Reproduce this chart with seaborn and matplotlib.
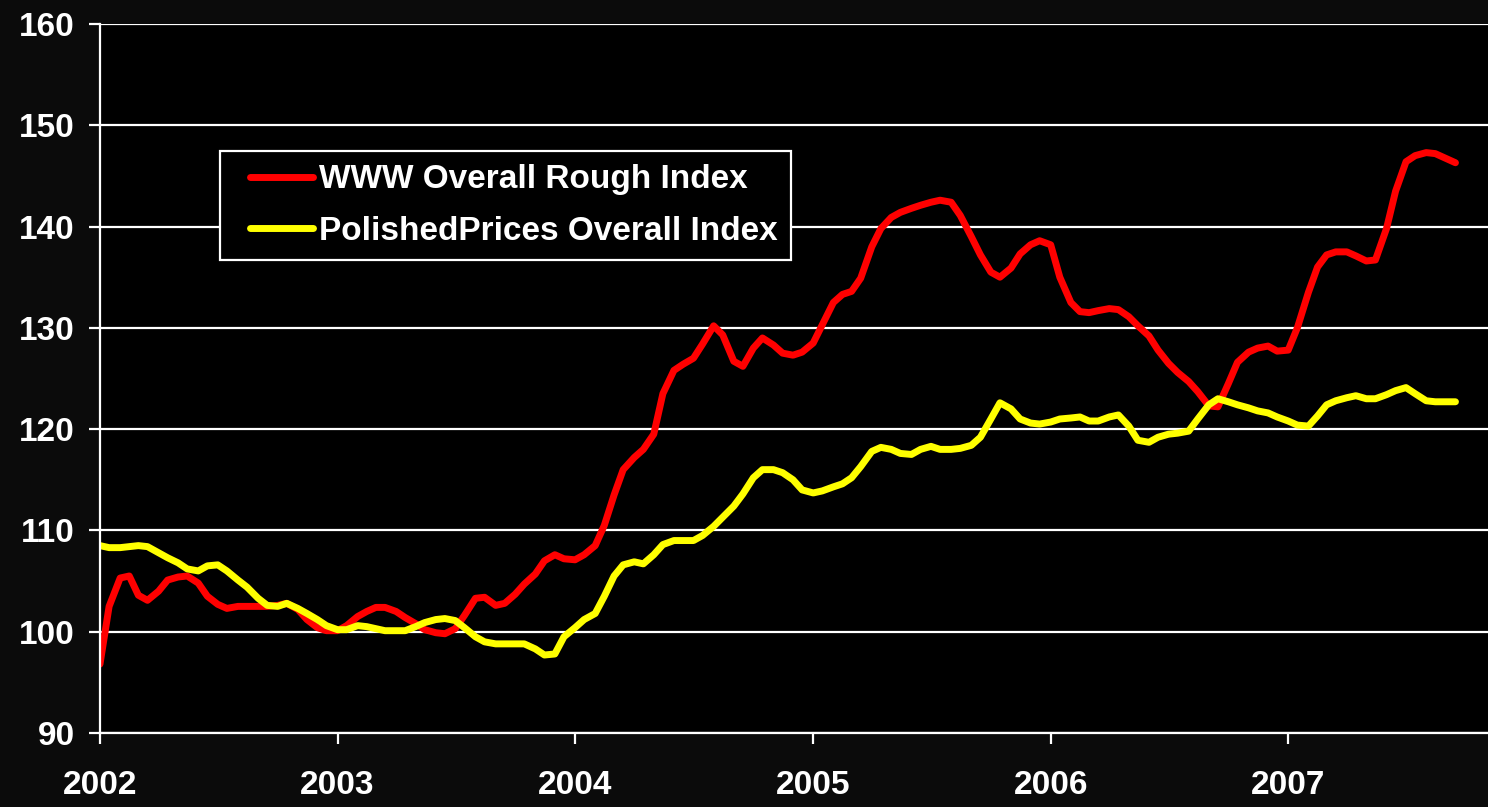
import pandas as pd
import matplotlib
matplotlib.use("Agg")
import matplotlib.pyplot as plt
from matplotlib.legend_handler import HandlerLine2D
import seaborn as sns

# semi-monthly readings, Jan 2002 - Sep 2007
dates = pd.date_range("2002-01-01", periods=138, freq="SMS")

rough_index = [
    96.8, 102.5, 105.3, 105.5, 103.6, 103.1, 104.0, 105.1, 105.4, 105.5,
    104.8, 103.5, 102.7, 102.3, 102.5, 102.5, 102.5, 102.5, 102.6, 102.8,
    102.2, 101.2, 100.4, 100.1, 100.1, 100.6, 101.5, 102.0, 102.4, 102.4,
    102.0, 101.4, 100.8, 100.2, 99.9, 99.8, 100.3, 101.6, 103.3, 103.4,
    102.6, 102.8, 103.7, 104.7, 105.7, 107.0, 107.6, 107.2, 107.1, 107.6,
    108.5, 110.5, 113.5, 116.0, 117.2, 118.0, 119.5, 123.5, 125.8, 126.4,
    127.0, 128.4, 130.2, 129.3, 126.7, 126.2, 128.0, 129.0, 128.3, 127.5,
    127.3, 127.6, 128.5, 130.3, 132.5, 133.3, 133.6, 134.9, 138.0, 139.8,
    140.9, 141.4, 141.8, 142.1, 142.4, 142.6, 142.4, 141.1, 139.0, 137.2,
    135.5, 135.0, 135.9, 137.3, 138.2, 138.6, 138.2, 135.0, 132.5, 131.6,
    131.5, 131.7, 131.9, 131.8, 131.1, 130.2, 129.2, 127.8, 126.5, 125.6,
    124.7, 123.7, 122.3, 122.2, 124.5, 126.6, 127.6, 128.0, 128.2, 127.7,
    127.8, 130.0, 133.5, 136.0, 137.2, 137.5, 137.5, 137.1, 136.6, 136.7,
    139.8, 143.5, 146.4, 147.0, 147.3, 147.2, 146.7, 146.3,
]

polished_index = [
    108.5, 108.3, 108.3, 108.4, 108.5, 108.4, 107.8, 107.3, 106.8, 106.2,
    106.0, 106.5, 106.6, 106.0, 105.1, 104.4, 103.3, 102.6, 102.5, 102.8,
    102.3, 101.8, 101.2, 100.6, 100.2, 100.2, 100.6, 100.5, 100.3, 100.1,
    100.1, 100.1, 100.5, 100.9, 101.2, 101.3, 101.1, 100.4, 99.5, 99.0,
    98.8, 98.8, 98.8, 98.8, 98.3, 97.7, 97.8, 99.5, 100.4, 101.2,
    101.8, 103.5, 105.5, 106.6, 106.9, 106.7, 107.6, 108.6, 109.0, 109.0,
    109.0, 109.5, 110.4, 111.3, 112.4, 113.6, 115.2, 116.0, 116.0, 115.7,
    115.0, 114.0, 113.7, 113.9, 114.3, 114.6, 115.2, 116.3, 117.8, 118.2,
    118.0, 117.6, 117.5, 118.0, 118.3, 118.0, 118.0, 118.1, 118.4, 119.2,
    121.0, 122.6, 122.0, 121.0, 120.6, 120.5, 120.7, 121.0, 121.1, 121.2,
    120.8, 120.8, 121.2, 121.4, 120.3, 118.9, 118.7, 119.2, 119.5, 119.6,
    119.8, 121.0, 122.4, 123.0, 122.7, 122.4, 122.1, 121.8, 121.6, 121.2,
    120.8, 120.4, 120.3, 121.3, 122.4, 122.8, 123.1, 123.3, 123.0, 123.0,
    123.4, 123.8, 124.1, 123.5, 122.8, 122.7, 122.7, 122.7,
]

series_names = ["WWW Overall Rough Index", "PolishedPrices Overall Index"]
year_ticks = ["2002", "2003", "2004", "2005", "2006", "2007"]
y_ticks = [90, 100, 110, 120, 130, 140, 150, 160]

df = pd.DataFrame({
    "date": list(dates) * 2,
    "value": rough_index + polished_index,
    "series": [series_names[0]] * len(dates) + [series_names[1]] * len(dates),
})

sns.set_style("dark", {"axes.facecolor": "black", "figure.facecolor": "#0b0b0b"})
plt.rcParams["font.family"] = ["Liberation Sans", "DejaVu Sans"]
plt.rcParams["font.weight"] = "bold"

fig = plt.figure(figsize=(14.88, 8.07), dpi=100)
ax = fig.add_axes([0.0672, 0.0917, 0.9328, 0.8786])
ax.set_facecolor("black")

sns.lineplot(data=df, x="date", y="value", hue="series",
             palette={series_names[0]: "#ff0000", series_names[1]: "#ffff00"},
             linewidth=5, ax=ax)
for line in ax.lines:
    line.set_solid_capstyle("round")
    line.set_solid_joinstyle("round")

ax.set_ylim(90, 160)
ax.set_yticks(y_ticks)
ax.set_yticklabels([str(v) for v in y_ticks], fontsize=24, fontweight="bold", color="white")

ax.set_xlim(pd.Timestamp("2002-01-01"), pd.Timestamp("2007-11-04"))
ax.set_xticks([pd.Timestamp(y + "-01-01") for y in year_ticks])
ax.set_xticklabels(year_ticks, fontsize=24, fontweight="bold", color="white")
ax.set_xlabel("")
ax.set_ylabel("")

ax.grid(axis="y", color="white", linewidth=1.6)
ax.grid(axis="x", visible=False)
for side in ["top", "right"]:
    ax.spines[side].set_visible(False)
for side in ["left", "bottom"]:
    ax.spines[side].set_color("white")
    ax.spines[side].set_linewidth(1.6)
ax.tick_params(axis="y", direction="out", length=8, width=1.6, color="white", pad=10, left=True)
ax.tick_params(axis="x", direction="out", length=8, width=1.6, color="white", pad=19, bottom=True)

handles, labels = ax.get_legend_handles_labels()
leg = ax.legend(handles, labels, loc="upper left", bbox_to_anchor=(0.0865, 0.821), borderaxespad=0,
                frameon=True, fancybox=False, facecolor="black", edgecolor="white",
                fontsize=24, handlelength=2.4, handletextpad=0.18, labelspacing=0.62,
                borderpad=0.4, handler_map={h: HandlerLine2D(xpad=0.5) for h in handles})
leg.get_frame().set_linewidth(1.6)
leg.get_frame().set_alpha(1)
for text in leg.get_texts():
    text.set_color("white")
    text.set_fontweight("bold")
for h in leg.get_lines():
    h.set_linewidth(5)

fig.savefig("out.png", dpi=100, facecolor=fig.get_facecolor())
